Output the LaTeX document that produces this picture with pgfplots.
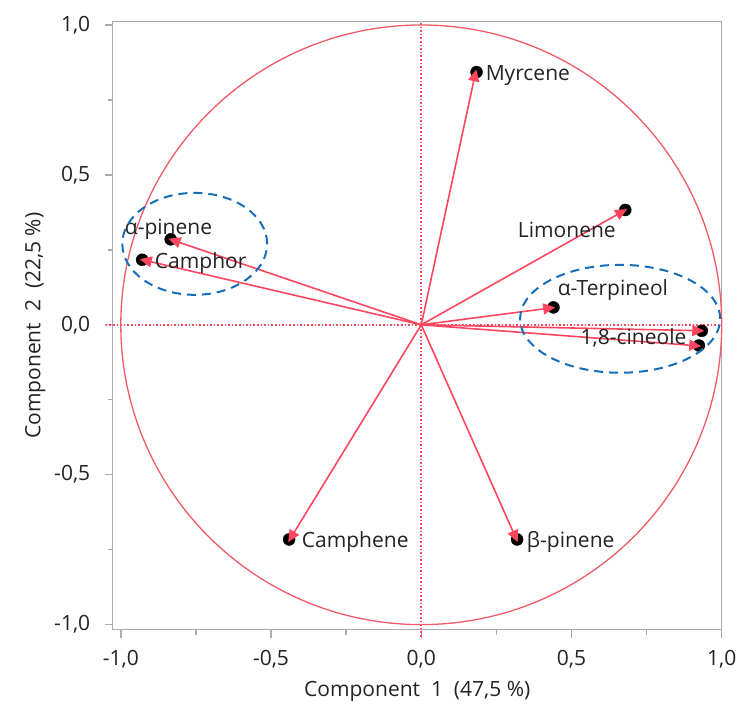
\documentclass[border=0pt]{standalone}
\usepackage{pgfplots}
\pgfplotsset{compat=1.18}
\usepackage{fontspec}
\setmainfont{Open Sans}
\usetikzlibrary{arrows.meta}
\definecolor{pcared}{RGB}{255,70,95}
\definecolor{circred}{RGB}{240,90,105}
\definecolor{ellblue}{RGB}{20,110,185}
\definecolor{axgray}{RGB}{170,170,170}
\definecolor{txt}{RGB}{35,35,35}

\begin{document}
\begin{tikzpicture}[font=\fontsize{21}{25}\selectfont]
\begin{axis}[
  at={(0,0)}, anchor=south west,
  scale only axis, width=609pt, height=608pt,
  xmin=-1.027, xmax=1.0, ymin=-1.017, ymax=1.011,
  clip marker paths=true,
  axis line style={axgray, line width=1.4pt},
  every tick/.style={axgray, line width=1.4pt},
  tick align=outside,
  xtick pos=bottom, ytick pos=left,
  xtick={-1,-0.5,0,0.5,1}, ytick={-1,-0.5,0,0.5,1},
  minor tick num=1,
  major tick length=8pt, minor tick length=5pt,
  /pgf/number format/.cd, use comma, fixed, fixed zerofill, precision=1, assume math mode=true,
  /pgfplots/.cd,
  tick label style={font=\fontsize{21}{25}\selectfont, text=txt},
  xticklabel style={yshift=-9pt},
  yticklabel style={xshift=-11pt},
  xlabel={Component\ \ 1\ \ (47,5 \%)},
  ylabel={Component\ \ 2\ \ (22,5 \%)},
  label style={font=\fontsize{21}{25}\selectfont, text=txt},
  xlabel style={yshift=-6pt},
  ylabel style={yshift=2pt},
  clip=false,
  arr/.style={pcared, line width=1.6pt, -{Triangle[length=12pt, width=11pt]}},
]
% dotted zero lines
\addplot[pcared, dotted, line width=1.6pt] coordinates {(0,-1.04) (0,1.011)};
\addplot[pcared, dotted, line width=1.6pt] coordinates {(-1.05,0) (1.0,0)};
% unit circle
\draw[circred, line width=1.3pt] (axis cs:0,0) ellipse [x radius=1, y radius=1];
% points (loadings)
\addplot[only marks, mark=*, mark size=6pt, mark options={fill=black, draw=black}] coordinates {
(0.184,0.843) (0.679,0.383) (0.44,0.058) (0.934,-0.02) (0.924,-0.069)
(-0.834,0.285) (-0.929,0.217) (-0.44,-0.716) (0.319,-0.716)};
% arrows
\addplot[arr] coordinates {(0,0) (0.183,0.852)};
\addplot[arr] coordinates {(0,0) (0.685,0.386)};
\addplot[arr] coordinates {(0,0) (0.446,0.058)};
\addplot[arr] coordinates {(0,0) (0.942,-0.02)};
\addplot[arr] coordinates {(0,0) (0.932,-0.071)};
\addplot[arr] coordinates {(0,0) (-0.841,0.287)};
\addplot[arr] coordinates {(0,0) (-0.937,0.219)};
\addplot[arr] coordinates {(0,0) (-0.443,-0.725)};
\addplot[arr] coordinates {(0,0) (0.321,-0.725)};
% labels
\node[anchor=west, text=txt] at (axis cs:0.203,0.832) {Myrcene};
\node[anchor=west, text=txt] at (axis cs:0.31,0.316) {Limonene};
\node[anchor=west, text=txt] at (axis cs:0.443,0.116) {α-Terpineol};
\node[anchor=west, text=txt] at (axis cs:0.519,-0.043) {1,8-cineole};
\node[anchor=west, text=txt] at (axis cs:-0.998,0.319) {α-pinene};
\node[anchor=west, text=txt] at (axis cs:-0.898,0.206) {Camphor};
\node[anchor=west, text=txt] at (axis cs:-0.409,-0.725) {Camphene};
\node[anchor=west, text=txt] at (axis cs:0.34,-0.725) {β-pinene};
% grouping ellipses
\draw[ellblue, line width=2pt, dash pattern=on 9pt off 6pt] (axis cs:-0.754,0.27) ellipse [x radius=0.241, y radius=0.17];
\draw[ellblue, line width=2pt, dash pattern=on 9pt off 6pt] (axis cs:0.662,0.02) ellipse [x radius=0.333, y radius=0.18];
\end{axis}
\pgfresetboundingbox
\path (-112.7pt,-74pt) rectangle (626.3pt,629.7pt);
\end{tikzpicture}
\end{document}
